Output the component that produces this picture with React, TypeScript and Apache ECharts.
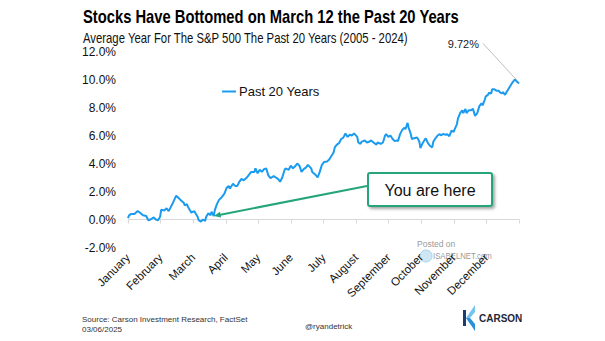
import React, { useEffect, useRef } from "react";
import * as echarts from "echarts";

const titleText = "Stocks Have Bottomed on March 12 the Past 20 Years";
const subtitleText = "Average Year For The S&P 500 The Past 20 Years (2005 - 2024)";
const seriesName = "Past 20 Years";
const monthLabels = ["January", "February", "March", "April", "May", "June", "July", "August", "September", "October", "November", "December"];
const yMin = -2;
const yMax = 12;
const yStep = 2;
const yearDays = 365;

// Day of year (x) and average cumulative return in % (y)
const tradingDay = [
  0, 1, 3, 6, 9, 11, 14, 17, 19, 21,
  24, 26, 28, 30, 31, 34, 36, 38, 40, 42,
  45, 47, 49, 52, 53, 55, 56, 58, 59, 62,
  63, 65, 66, 68, 70, 72, 73, 75, 77, 78,
  80, 81, 83, 85, 87, 90, 92, 94, 95, 98,
  100, 102, 104, 106, 108, 111, 113, 115, 118, 119,
  121, 123, 125, 127, 129, 131, 133, 134, 136, 138,
  140, 142, 144, 146, 147, 150, 152, 154, 156, 158,
  160, 162, 164, 166, 168, 171, 172, 175, 177, 179,
  181, 183, 186, 188, 190, 192, 193, 195, 197, 199,
  201, 203, 205, 207, 209, 211, 214, 215, 217, 218,
  221, 223, 225, 227, 230, 232, 233, 236, 238, 240,
  241, 243, 245, 247, 249, 251, 252, 254, 256, 258,
  259, 261, 262, 264, 265, 267, 270, 272, 273, 275,
  277, 278, 280, 282, 284, 285, 287, 289, 291, 292,
  294, 297, 298, 300, 302, 304, 305, 307, 308, 310,
  312, 313, 315, 316, 318, 320, 322, 324, 326, 328,
  330, 331, 333, 334, 336, 337, 339, 340, 342, 344,
  346, 347, 349, 350, 352, 353, 355, 357, 359, 361,
  363, 365,
];
const avgReturn = [
  0.1, 0.3, 0.4, 0.4, 0.6, 0.5, 0.3, 0.25, -0.05, 0.0,
  0.15, 0.0, -0.05, 0.2, 0.7, 0.65, 0.8, 0.6, 0.9, 1.2,
  1.7, 1.55, 1.4, 1.2, 1.0, 1.1, 0.9, 0.65, 0.5, 0.6,
  0.45, 0.2, -0.05, -0.15, 0.0, -0.1, 0.2, 0.45, 0.3, 0.55,
  0.25, 0.65, 1.1, 1.4, 1.55, 1.85, 2.25, 2.4, 2.2, 2.55,
  2.4, 2.4, 2.7, 2.9, 2.8, 3.0, 3.2, 3.4, 3.4, 3.65,
  3.3, 3.55, 3.4, 3.6, 3.65, 3.15, 2.95, 3.0, 3.1, 3.0,
  2.9, 2.7, 3.0, 3.5, 3.65, 3.55, 3.85, 3.65, 3.8, 4.0,
  3.85, 3.4, 3.6, 3.7, 3.9, 3.65, 3.4, 3.2, 3.0, 3.4,
  3.9, 4.1, 4.15, 4.3, 4.55, 4.8, 5.15, 5.35, 5.45, 5.75,
  5.85, 6.15, 5.9, 6.05, 6.0, 6.15, 5.9, 5.5, 5.4, 5.55,
  5.65, 5.5, 5.55, 5.65, 5.45, 5.35, 5.5, 5.4, 5.5, 6.0,
  6.1, 5.9, 6.0, 5.75, 5.6, 5.65, 5.6, 6.1, 6.4, 6.55,
  6.45, 6.9, 6.55, 6.1, 5.75, 5.8, 5.85, 5.55, 5.1, 5.45,
  5.7, 5.8, 5.45, 5.25, 5.15, 5.55, 5.8, 6.0, 6.1, 6.0,
  6.1, 6.05, 6.1, 5.95, 6.35, 6.25, 6.45, 6.8, 7.2, 7.6,
  7.8, 7.6, 7.9, 7.6, 7.8, 7.8, 7.9, 7.4, 7.6, 8.1,
  8.3, 8.15, 8.55, 8.8, 8.9, 9.05, 9.0, 9.3, 9.3, 9.2,
  9.2, 9.1, 9.0, 9.1, 8.9, 9.05, 9.3, 9.55, 9.8, 10.0,
  9.85, 9.72,
];
const hereDay = 80;
const calloutText = "You are here";
const sourceText = "Source: Carson Investment Research, FactSet";
const dateText = "03/06/2025";
const handleText = "@ryandetrick";
const postedText = "Posted on";
const siteText = "ISABELNET.com";
const brandText = "CARSON";

const FONT = "'Liberation Sans', Arial, sans-serif";
const LINE_COLOR = "#1a9bf0";
const GREEN = "#25a57c";

export default function App() {
  const ref = useRef<HTMLDivElement>(null);

  useEffect(() => {
    const chart = echarts.init(ref.current!, null, { renderer: "svg" });
    const data = tradingDay.map((d, i) => [d, avgReturn[i]]);

    chart.setOption({
      animation: false,
      backgroundColor: "#ffffff",
      textStyle: { fontFamily: FONT },
      legend: {
        data: [seriesName],
        left: 222,
        top: 85,
        padding: 0,
        icon: "rect",
        itemWidth: 14,
        itemHeight: 2,
        itemGap: 4,
        textStyle: { fontFamily: FONT, fontSize: 13, color: "#111", padding: [0, 0, 0, -2] },
      },
      grid: { left: 128, right: 86, top: 51.5, bottom: 93.5, containLabel: false },
      xAxis: [
        {
          type: "value",
          min: 0,
          max: yearDays,
          interval: yearDays / 12,
          axisLine: { show: true, onZero: true, lineStyle: { color: "#d9d9d9", width: 1 } },
          axisTick: { show: true, length: 4, lineStyle: { color: "#d9d9d9" } },
          axisLabel: { show: false },
          splitLine: { show: false },
        },
        {
          type: "value",
          position: "bottom",
          min: 0,
          max: monthLabels.length,
          interval: 1,
          axisLine: { show: false, onZero: false },
          axisTick: { show: false },
          splitLine: { show: false },
          axisLabel: {
            show: true,
            rotate: 45,
            margin: 8,
            fontSize: 11.5,
            fontFamily: FONT,
            color: "#111",
            formatter: (v: number) => monthLabels[Math.round(v)] ?? "",
          },
        },
      ],
      yAxis: {
        type: "value",
        min: yMin,
        max: yMax,
        interval: yStep,
        axisLine: { show: false },
        axisTick: { show: false },
        splitLine: { show: false },
        axisLabel: {
          margin: 12,
          fontSize: 12,
          fontFamily: FONT,
          color: "#111",
          formatter: (v: number) => `${v.toFixed(1)}%`,
        },
      },
      series: [
        {
          name: seriesName,
          type: "line",
          xAxisIndex: 0,
          yAxisIndex: 0,
          data,
          showSymbol: false,
          symbol: "none",
          lineStyle: { color: LINE_COLOR, width: 2 },
          itemStyle: { color: LINE_COLOR },
        },
      ],
    });

    const last = data[data.length - 1];
    const endPt = chart.convertToPixel({ seriesIndex: 0 }, last) as number[];
    const hereIdx = tradingDay.indexOf(hereDay);
    const tip = chart.convertToPixel({ seriesIndex: 0 }, data[hereIdx]) as number[];

    const box = { x: 368, y: 173, w: 124, h: 33 };
    const start = [box.x - 1, box.y + 13];
    const dx = tip[0] - start[0];
    const dy = tip[1] - start[1];
    const len = Math.sqrt(dx * dx + dy * dy);
    const ux = dx / len;
    const uy = dy / len;
    const nx = -uy;
    const ny = ux;
    const headL = 7;
    const headW = 3;

    chart.setOption({
      graphic: [
        {
          type: "text",
          x: 83,
          y: 7,
          scaleX: 0.82,
          style: {
            text: titleText,
            fontSize: 18,
            fontWeight: "bold",
            fontFamily: FONT,
            fill: "#000",
            verticalAlign: "top",
          },
        },
        {
          type: "text",
          x: 83,
          y: 31,
          scaleX: 0.81,
          style: {
            text: subtitleText,
            fontSize: 14,
            fontFamily: FONT,
            fill: "#111",
            verticalAlign: "top",
          },
        },
        {
          type: "line",
          shape: { x1: endPt[0] - 2, y1: endPt[1] - 3, x2: endPt[0] - 36, y2: endPt[1] - 40 },
          style: { stroke: "#bfbfbf", lineWidth: 1 },
        },
        {
          type: "text",
          x: endPt[0] - 40,
          y: endPt[1] - 39,
          style: {
            text: `${last[1].toFixed(2)}%`,
            fontSize: 11,
            fontFamily: FONT,
            fill: "#222",
            align: "right",
            verticalAlign: "middle",
          },
        },
        {
          type: "line",
          shape: { x1: start[0], y1: start[1], x2: tip[0] - ux * headL * 0.8, y2: tip[1] - uy * headL * 0.8 },
          style: { stroke: GREEN, lineWidth: 2 },
        },
        {
          type: "polygon",
          shape: {
            points: [
              [tip[0], tip[1]],
              [tip[0] - ux * headL + nx * headW, tip[1] - uy * headL + ny * headW],
              [tip[0] - ux * headL - nx * headW, tip[1] - uy * headL - ny * headW],
            ],
          },
          style: { fill: GREEN },
        },
        {
          type: "rect",
          shape: { x: box.x, y: box.y, width: box.w, height: box.h, r: 2 },
          style: {
            fill: "#ffffff",
            stroke: GREEN,
            lineWidth: 2,
            shadowBlur: 3,
            shadowOffsetX: 2,
            shadowOffsetY: 2,
            shadowColor: "rgba(0,0,0,0.35)",
          },
        },
        {
          type: "text",
          x: box.x + box.w / 2,
          y: box.y + box.h / 2 + 1,
          style: {
            text: calloutText,
            fontSize: 16,
            fontFamily: FONT,
            fill: "#111",
            align: "center",
            verticalAlign: "middle",
          },
        },
        {
          type: "text",
          x: 417,
          y: 244,
          style: { text: postedText, fontSize: 8.5, fontFamily: FONT, fill: "#9a9a9a", verticalAlign: "middle" },
        },
        {
          type: "circle",
          shape: { cx: 426, cy: 256, r: 6 },
          style: { fill: "#cfe6f5", stroke: "#b0d2ea", lineWidth: 1 },
        },
        {
          type: "text",
          x: 433,
          y: 256,
          scaleX: 0.82,
          style: { text: siteText, fontSize: 9.5, fontFamily: FONT, fill: "#9a9a9a", verticalAlign: "middle" },
        },
        {
          type: "text",
          x: 82,
          y: 319,
          style: { text: sourceText, fontSize: 8, fontFamily: FONT, fill: "#333", verticalAlign: "middle" },
        },
        {
          type: "text",
          x: 82,
          y: 329,
          style: { text: dateText, fontSize: 8, fontFamily: FONT, fill: "#333", verticalAlign: "middle" },
        },
        {
          type: "text",
          x: 305,
          y: 326,
          style: { text: handleText, fontSize: 8, fontFamily: FONT, fill: "#333", verticalAlign: "middle" },
        },
        {
          type: "rect",
          shape: { x: 463, y: 310, width: 3, height: 16 },
          style: { fill: "#1c3d6e" },
        },
        {
          type: "polygon",
          shape: { points: [[466, 318], [475, 305], [475, 312], [470, 318]] },
          style: { fill: "#74c4f0" },
        },
        {
          type: "polygon",
          shape: { points: [[466, 318], [470, 318], [475, 324], [475, 331]] },
          style: { fill: "#2a8fd6" },
        },
        {
          type: "text",
          x: 479,
          y: 318,
          style: { text: brandText, fontSize: 10, fontWeight: "bold", fontFamily: FONT, fill: "#1e2838", verticalAlign: "middle" },
        },
      ],
    });

    return () => chart.dispose();
  }, []);

  return <div ref={ref} style={{ position: "fixed", left: 0, top: 0, width: 605, height: 341 }} />;
}
